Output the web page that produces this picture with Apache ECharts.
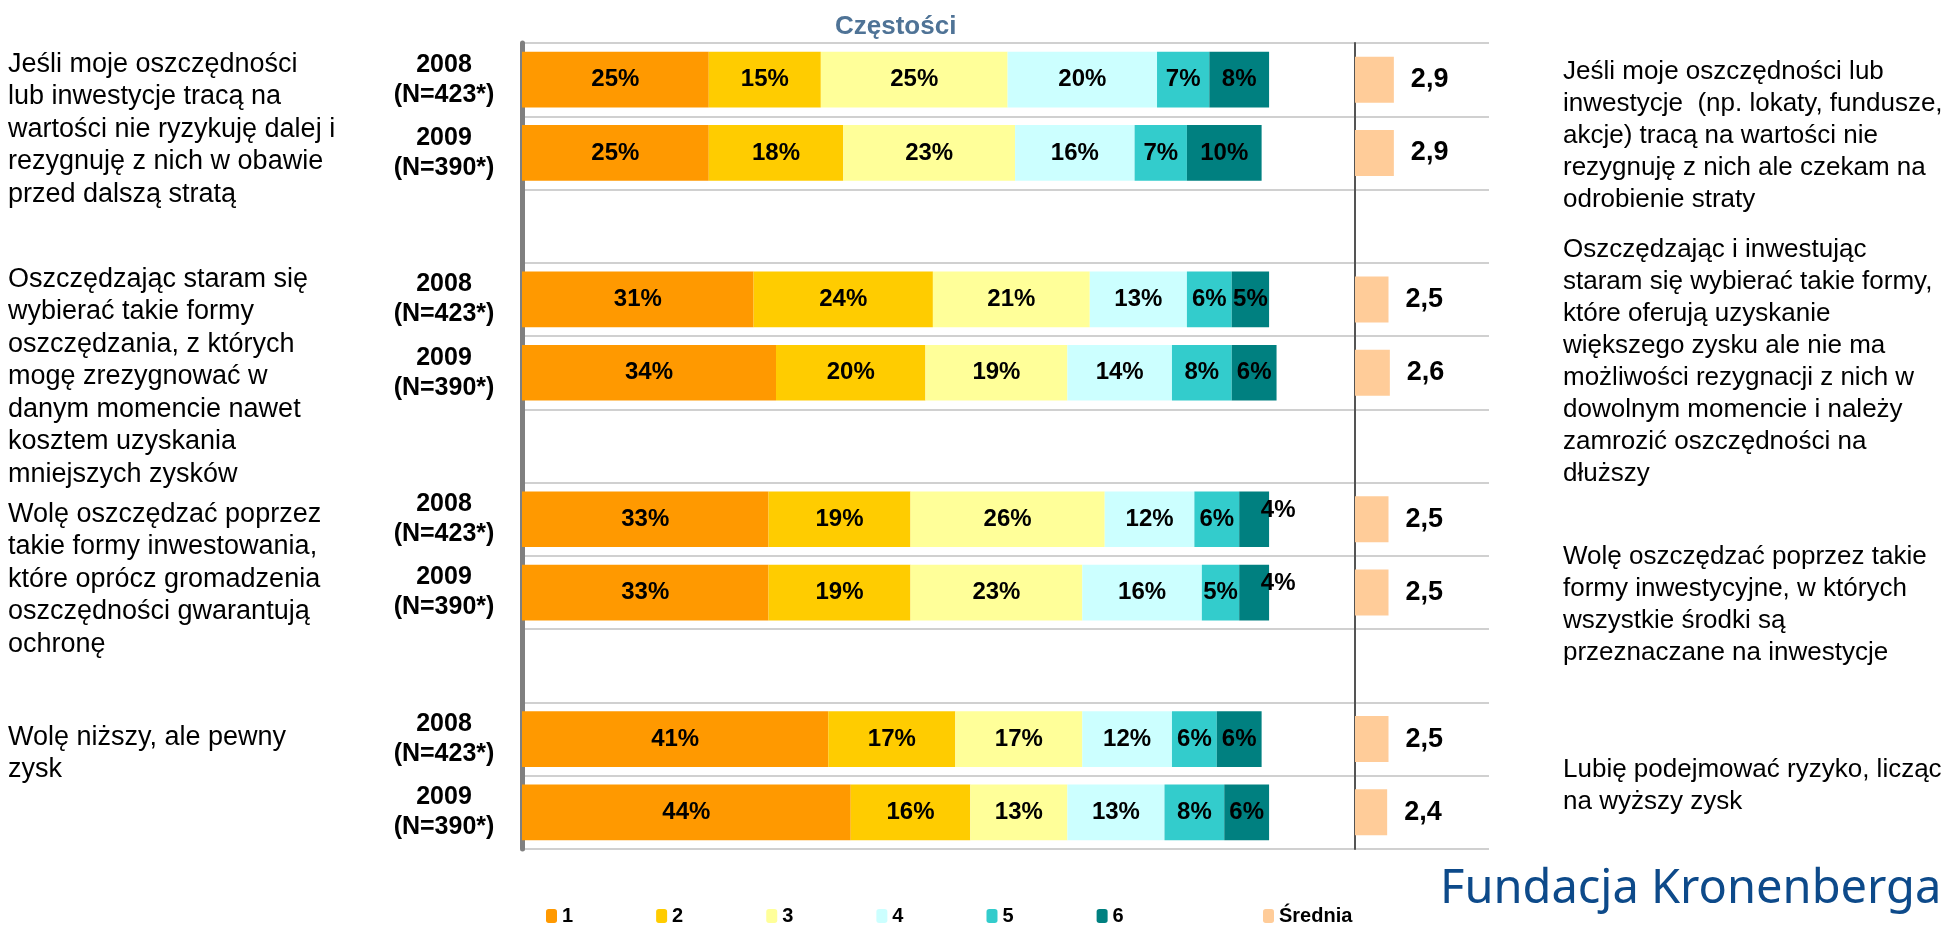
<!DOCTYPE html>
<html>
<head>
<meta charset="utf-8">
<script src="https://cdn.jsdelivr.net/npm/echarts@6/dist/echarts.min.js"></script>
<style>
  html, body { margin: 0; padding: 0; background: #fff; }
  #chart { width: 1953px; height: 925px; }
</style>
</head>
<body>
<div id="chart"></div>
<script>
    // rows top -> bottom, blank rows separate the four statements
    var rowLabels = ['2008\n(N=423*)', '2009\n(N=390*)', '', '2008\n(N=423*)', '2009\n(N=390*)', '',
                     '2008\n(N=423*)', '2009\n(N=390*)', '', '2008\n(N=423*)', '2009\n(N=390*)'];
    var levelNames = ['1', '2', '3', '4', '5', '6'];
    var share1 = [25, 25, null, 31, 34, null, 33, 33, null, 41, 44];
    var share2 = [15, 18, null, 24, 20, null, 19, 19, null, 17, 16];
    var share3 = [25, 23, null, 21, 19, null, 26, 23, null, 17, 13];
    var share4 = [20, 16, null, 13, 14, null, 12, 16, null, 12, 13];
    var share5 = [7, 7, null, 6, 8, null, 6, 5, null, 6, 8];
    var share6 = [8, 10, null, 5, 6, null, 4, 4, null, 6, 6];
    var average = [2.9, 2.9, null, 2.5, 2.6, null, 2.5, 2.5, null, 2.5, 2.4];

    var leftTexts = [
        'Jeśli moje oszczędności\nlub inwestycje tracą na\nwartości nie ryzykuję dalej i\nrezygnuję z nich w obawie\nprzed dalszą stratą',
        'Oszczędzając staram się\nwybierać takie formy\noszczędzania, z których\nmogę zrezygnować w\ndanym momencie nawet\nkosztem uzyskania\nmniejszych zysków',
        'Wolę oszczędzać poprzez\ntakie formy inwestowania,\nktóre oprócz gromadzenia\noszczędności gwarantują\nochronę',
        'Wolę niższy, ale pewny\nzysk'
    ];
    var rightTexts = [
        'Jeśli moje oszczędności lub\ninwestycje  (np. lokaty, fundusze,\nakcje) tracą na wartości nie\nrezygnuję z nich ale czekam na\nodrobienie straty',
        'Oszczędzając i inwestując\nstaram się wybierać takie formy,\nktóre oferują uzyskanie\nwiększego zysku ale nie ma\nmożliwości rezygnacji z nich w\ndowolnym momencie i należy\nzamrozić oszczędności na\ndłuższy',
        'Wolę oszczędzać poprzez takie\nformy inwestycyjne, w których\nwszystkie środki są\nprzeznaczane na inwestycje',
        'Lubię podejmować ryzyko, licząc\nna wyższy zysk'
    ];

    var colors = ['#FF9900', '#FFCC00', '#FFFF99', '#CCFFFF', '#33CCCC', '#008080'];
    var font = 'Liberation Sans, Arial, sans-serif';

    var chart = echarts.init(document.getElementById('chart'));

    var shares = [share1, share2, share3, share4, share5, share6];
    var barSeries = shares.map(function (arr, i) {
        return {
            name: levelNames[i],
            type: 'bar',
            stack: 'total',
            xAxisIndex: 0,
            yAxisIndex: 0,
            barCategoryGap: '24%',
            itemStyle: { color: colors[i] },
            label: {
                show: true,
                position: 'inside',
                formatter: '{c}%',
                color: '#000',
                fontFamily: font,
                fontWeight: 'bold',
                fontSize: 24
            },
            // tiny last segments get their label pushed out to the upper right
            data: arr.map(function (v) {
                if (v !== null && v < 5) {
                    return { value: v, label: { offset: [24, -9] } };
                }
                return v;
            })
        };
    });

    var textBlocks = [];
    var leftTops = [48, 263, 498, 721];
    var rightTops = [56, 234, 541, 754];
    leftTexts.forEach(function (t, i) {
        textBlocks.push({
            type: 'text', left: 8, top: leftTops[i],
            style: { text: t, font: '27px ' + font, fill: '#000', lineHeight: 32.5 }
        });
    });
    rightTexts.forEach(function (t, i) {
        textBlocks.push({
            type: 'text', left: 1563, top: rightTops[i],
            style: { text: t, font: '26px ' + font, fill: '#000', lineHeight: 32 }
        });
    });
    textBlocks.push({
        type: 'text', left: 1440, top: 866,
        style: { text: 'Fundacja Kronenberga', font: '47px Noto Sans, Open Sans, sans-serif', fill: '#0D4A8A' }
    });

    chart.setOption({
        animation: false,
        title: {
            text: 'Częstości',
            left: 830,
            top: 9,
            textStyle: { color: '#4F7396', fontFamily: font, fontWeight: 'bold', fontSize: 26 }
        },
        legend: [{
            data: levelNames,
            left: 541,
            top: 901,
            itemWidth: 11,
            itemHeight: 14,
            itemGap: 83,
            textStyle: { fontFamily: font, fontWeight: 'bold', fontSize: 20, color: '#000' }
        }, {
            data: ['Średnia'],
            left: 1258,
            top: 901,
            itemWidth: 11,
            itemHeight: 14,
            textStyle: { fontFamily: font, fontWeight: 'bold', fontSize: 20, color: '#000' }
        }],
        grid: [
            { left: 522, top: 43, width: 833, height: 806 },
            { left: 1355, top: 43, width: 134, height: 806 }
        ],
        xAxis: [
            { gridIndex: 0, type: 'value', min: 0, max: 111.5, show: false },
            { gridIndex: 1, type: 'value', min: 0, max: 10, show: false }
        ],
        yAxis: [{
            gridIndex: 0,
            type: 'category',
            inverse: true,
            data: rowLabels,
            offset: 5,
            axisLine: { lineStyle: { color: '#808080', width: 5 } },
            axisTick: { length: 7, lineStyle: { color: '#808080', width: 5 } },
            axisLabel: {
                align: 'center',
                margin: 73,
                fontFamily: font,
                fontWeight: 'bold',
                fontSize: 25,
                lineHeight: 30,
                color: '#000'
            },
            splitLine: { show: true, lineStyle: { color: '#D0D0D0', width: 2 } }
        }, {
            gridIndex: 1,
            type: 'category',
            inverse: true,
            data: rowLabels,
            axisLine: { lineStyle: { color: '#555', width: 2 } },
            axisTick: { show: false },
            axisLabel: { show: false },
            splitLine: { show: true, lineStyle: { color: '#D0D0D0', width: 2 } }
        }],
        series: barSeries.concat([{
            name: 'Średnia',
            type: 'bar',
            xAxisIndex: 1,
            yAxisIndex: 1,
            barWidth: 46,
            itemStyle: { color: '#FFCC99' },
            label: {
                show: true,
                position: 'right',
                distance: 17,
                formatter: function (p) { return String(p.value).replace('.', ','); },
                color: '#000',
                fontFamily: font,
                fontWeight: 'bold',
                fontSize: 27
            },
            data: average
        }]),
        graphic: textBlocks
    });
</script>
</body>
</html>
